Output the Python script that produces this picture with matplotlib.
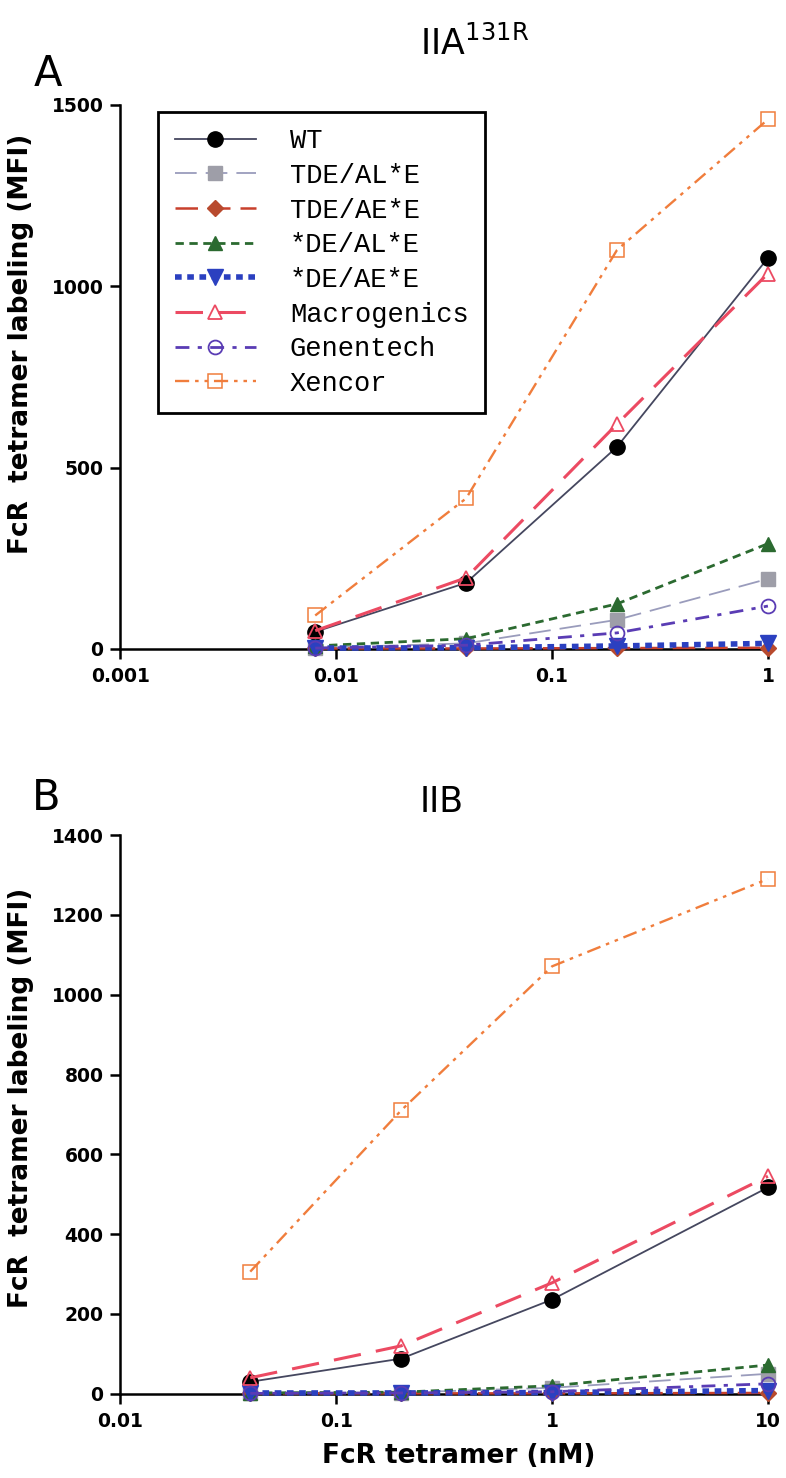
import matplotlib
matplotlib.use("Agg")
import matplotlib.pyplot as plt
from matplotlib.ticker import FixedLocator, FixedFormatter, NullLocator

plt.rcParams["font.family"] = ["DejaVu Sans"]

# tetramer concentrations (nM)
conc_a = [0.008, 0.04, 0.2, 1]
conc_b = [0.04, 0.2, 1, 10]

variants = ["WT", "TDE/AL*E", "TDE/AE*E", "*DE/AL*E", "*DE/AE*E",
            "Macrogenics", "Genentech", "Xencor"]

# MFI, FcgRIIA 131R
mfi_a = {
    "WT":          [47, 182, 557, 1078],
    "TDE/AL*E":    [3, 15, 80, 193],
    "TDE/AE*E":    [1, 1, 2, 3],
    "*DE/AL*E":    [8, 28, 124, 290],
    "*DE/AE*E":    [2, 3, 8, 15],
    "Macrogenics": [50, 196, 620, 1035],
    "Genentech":   [2, 10, 44, 118],
    "Xencor":      [92, 415, 1100, 1460],
}

# MFI, FcgRIIB
mfi_b = {
    "WT":          [30, 88, 236, 517],
    "TDE/AL*E":    [2, 3, 15, 50],
    "TDE/AE*E":    [1, 1, 1, 2],
    "*DE/AL*E":    [2, 4, 20, 72],
    "*DE/AE*E":    [2, 2, 3, 8],
    "Macrogenics": [40, 120, 278, 545],
    "Genentech":   [1, 2, 5, 25],
    "Xencor":      [306, 710, 1071, 1290],
}

styles = {
    "WT":          dict(color="#45475f", lw=1.3, ls="-", marker="o", ms=11,
                        mfc="black", mec="black"),
    "TDE/AL*E":    dict(color="#9a9cbc", lw=1.3, ls=(0, (12, 5)), marker="s", ms=10,
                        mfc="#9e9ea8", mec="#9e9ea8"),
    "TDE/AE*E":    dict(color="#c8402c", lw=1.8, ls=(0, (9, 4)), marker="D", ms=8,
                        mfc="#b84a2e", mec="#b84a2e"),
    "*DE/AL*E":    dict(color="#2b6a30", lw=2.0, ls=(0, (3, 2)), marker="^", ms=10,
                        mfc="#2b6a30", mec="#2b6a30"),
    "*DE/AE*E":    dict(color="#2b40c0", lw=4.0, ls=(0, (1.2, 1.0)), marker="v", ms=11,
                        mfc="#2b40c0", mec="#2b40c0"),
    "Macrogenics": dict(color="#ec4a62", lw=2.2, ls=(0, (9, 5)), marker="^", ms=10,
                        mfc="none", mec="#ec4a62", mew=1.3),
    "Genentech":   dict(color="#5a3cb4", lw=2.0, ls=(0, (5, 3, 1.5, 3)), marker="o", ms=10,
                        mfc="none", mec="#5a3cb4", mew=1.3),
    "Xencor":      dict(color="#f07d3c", lw=1.7, ls=(0, (6, 2.5, 1.5, 2.5, 1.5, 2.5)),
                        marker="s", ms=10, mfc="none", mec="#f07d3c", mew=1.1),
}


def draw_panel(ax, conc, mfi, xticks, xlabels, yticks, ymax, ylab_y):
    for name in variants:
        ax.plot(conc, mfi[name], label=name, clip_on=False, zorder=3, **styles[name])
    ax.set_xscale("log")
    ax.set_xlim(xticks[0], xticks[-1])
    ax.set_ylim(0, ymax)
    ax.xaxis.set_major_locator(FixedLocator(xticks))
    ax.xaxis.set_major_formatter(FixedFormatter(xlabels))
    ax.xaxis.set_minor_locator(NullLocator())
    ax.set_yticks(yticks)
    ax.spines["top"].set_visible(False)
    ax.spines["right"].set_visible(False)
    for s in ("left", "bottom"):
        ax.spines[s].set_linewidth(1.8)
    ax.tick_params(direction="out", length=7, width=1.8, labelsize=13.5)
    ax.tick_params(axis="x", pad=6)
    ax.tick_params(axis="y", pad=5)
    for lab in ax.get_xticklabels() + ax.get_yticklabels():
        lab.set_fontweight("bold")
    ax.set_ylabel("FcR  tetramer labeling (MFI)", fontsize=19, fontweight="bold")
    ax.yaxis.set_label_coords(-0.133, ylab_y)


fig = plt.figure(figsize=(7.86, 14.78), dpi=100)

ax_a = fig.add_axes([0.153, 0.561, 0.824, 0.368])
draw_panel(ax_a, conc_a, mfi_a, [0.001, 0.01, 0.1, 1], ["0.001", "0.01", "0.1", "1"],
           [0, 500, 1000, 1500], 1500, 0.56)
leg = ax_a.legend(loc="upper left", bbox_to_anchor=(0.059, 0.987), numpoints=1,
                  handlelength=3.0, handletextpad=1.25, labelspacing=0.32,
                  borderpad=0.6, borderaxespad=0, fancybox=False, framealpha=1,
                  prop={"family": ["Liberation Mono", "DejaVu Sans Mono"], "size": 19.5})
leg.get_frame().set_edgecolor("black")
leg.get_frame().set_linewidth(2.0)

ax_b = fig.add_axes([0.153, 0.057, 0.824, 0.378])
draw_panel(ax_b, conc_b, mfi_b, [0.01, 0.1, 1, 10], ["0.01", "0.1", "1", "10"],
           list(range(0, 1401, 200)), 1400, 0.53)
ax_b.set_xlabel("FcR tetramer (nM)", fontsize=19, fontweight="bold")
ax_b.xaxis.set_label_coords(0.523, -0.088)

fig.text(0.061, 0.936, "A", fontsize=30, ha="center", va="bottom")
fig.text(0.534, 0.958, r"IIA$^{\mathregular{131R}}$", fontsize=25, ha="left", va="bottom")
fig.text(0.059, 0.446, "B", fontsize=30, ha="center", va="bottom")
fig.text(0.534, 0.446, "IIB", fontsize=25, ha="left", va="bottom")

fig.savefig("out.png", dpi=100, facecolor="white")
